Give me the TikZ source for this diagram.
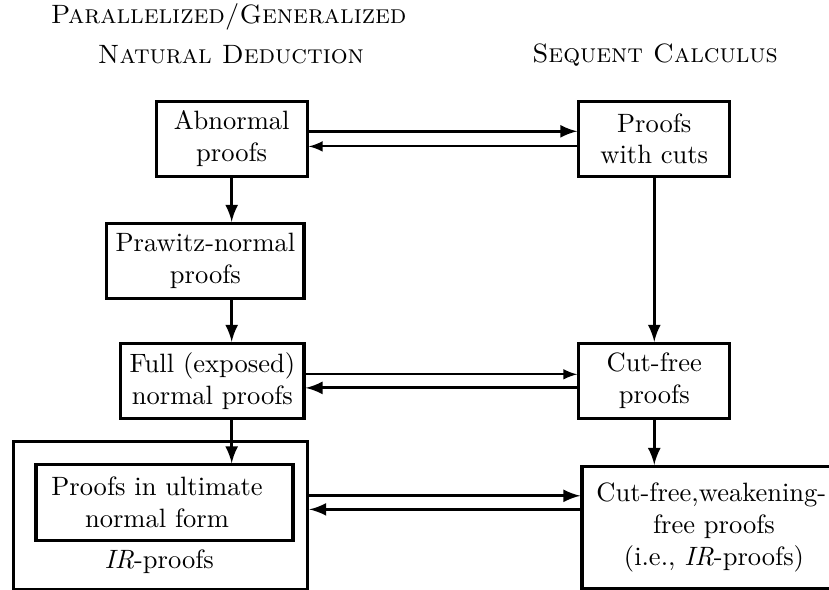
\documentclass[tikz,border=0pt]{standalone}
\usepackage{tikz}
\usetikzlibrary{calc,arrows,positioning}
\tikzset{
myBox/.style={
	rectangle,draw,very thick,
	align=center,minimum width=2cm,minimum height=1cm
}
, myFrame/.style={
	rectangle,draw,very thick,inner sep=0pt
}
, myTitle/.style={font=\scshape}
% links
, myBold/.style={-latex,very thick}
, myThin/.style={-latex,thick}
}

\begin{document}
\begin{tikzpicture}
	\useasboundingbox (0,0) rectangle (10.985,-7.818);
	% titles
	\node[myTitle] (TitlePG) at (3.03,-0.23) {Parallelized/Generalized};
	\node[myTitle] (TitleND) at (3.06,-0.73) {Natural Deduction};
	\node[myTitle] (TitleSC) at (8.68,-0.73) {Sequent Calculus};

	% natural deduction side
	\node[myBox] (Abnormal) at (3.07,-1.84) {Abnormal\\proofs};
	\node[myBox,anchor=east] (Prawitz) at (4.05,-3.46) {Prawitz-normal\\proofs};
	\node[myBox,anchor=east] (Full) at (4.05,-5.05) {Full (exposed)\\normal proofs};
	\node[myFrame,minimum width=3.896cm,minimum height=1.96cm,anchor=north west] (Outer) at (0.16,-5.83) {};
	\node[myFrame,minimum width=3.405cm,minimum height=1cm] (Inner) at (2.18,-6.66) {};
	\node[align=center] (InnerText) at (2.08,-6.66) {Proofs in ultimate\\normal form};
	\node (IRLabel) at (2.11,-7.45) {\textit{IR}-proofs};

	% sequent calculus side
	\node[myBox] (Cuts) at (8.67,-1.84) {Proofs\\with cuts};
	\node[myBox] (CutFree) at (8.67,-5.05) {Cut-free\\proofs};
	\node[myBox,anchor=north west,inner xsep=5.5pt,minimum width=3.5cm,minimum height=1.62cm] (WeakFree) at (7.69,-6.16)
		{\hspace*{-2pt}Cut-free,weakening-\\free proofs\\(i.e., \textit{IR}-proofs)};

	% vertical links
	\draw [myBold] (Abnormal.south) -- (Abnormal.south |- Prawitz.north);
	\draw [myBold] (Abnormal.south |- Prawitz.south) -- (Abnormal.south |- Full.north);
	\draw [myBold] (Abnormal.south |- Full.south) -- (Abnormal.south |- Inner.north);
	\draw [myBold] (Cuts.south) -- (CutFree.north);
	\draw [myBold] (CutFree.south) -- (CutFree.south |- WeakFree.north);

	% horizontal links
	\draw [myBold] ($(Abnormal.east)+(0,0.1)$) -- ($(Cuts.west)+(0,0.1)$);
	\draw [myThin] ($(Cuts.west)+(0,-0.1)$) -- ($(Abnormal.east)+(0,-0.1)$);
	\draw [myThin] ($(Full.east)+(0,0.09)$) -- ($(CutFree.west)+(0,0.09)$);
	\draw [myBold] ($(CutFree.west)+(0,-0.09)$) -- ($(Full.east)+(0,-0.09)$);
	\draw [myBold] ($(Outer.east |- Inner.east)+(0,0.09)$) -- ($(WeakFree.west |- Inner.east)+(0,0.09)$);
	\draw [myBold] ($(WeakFree.west |- Inner.east)+(0,-0.09)$) -- ($(Outer.east |- Inner.east)+(0,-0.09)$);
\end{tikzpicture}
\end{document}
